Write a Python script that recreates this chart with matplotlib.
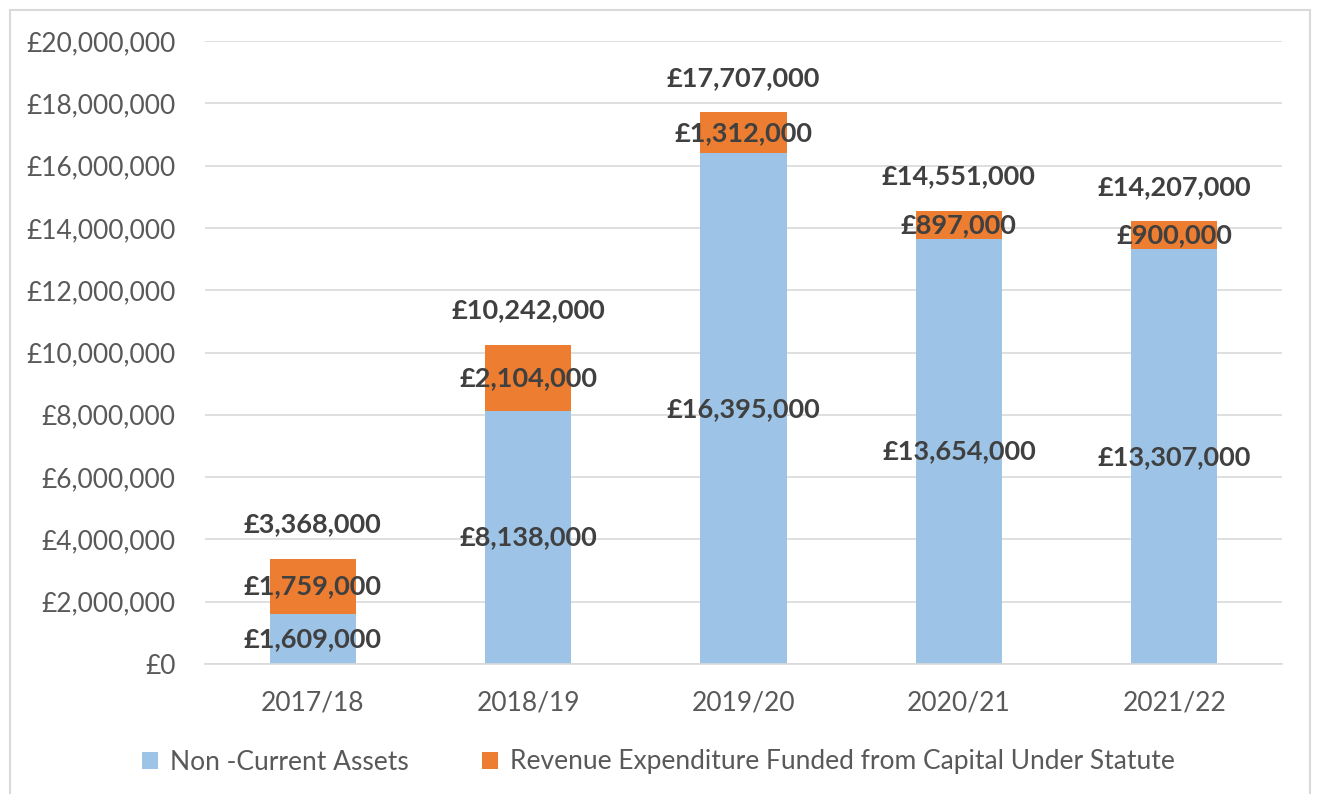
import matplotlib.pyplot as plt
from matplotlib.ticker import FuncFormatter
from matplotlib.patches import Rectangle

plt.rcParams['font.family'] = ['Lato', 'DejaVu Sans']

years = ['2017/18', '2018/19', '2019/20', '2020/21', '2021/22']
non_current = [1609000, 8138000, 16395000, 13654000, 13307000]
revenue_exp = [1759000, 2104000, 1312000, 897000, 900000]
totals = [3368000, 10242000, 17707000, 14551000, 14207000]

blue = '#9DC3E6'
orange = '#ED7D31'
label_col = '#404040'
tick_col = '#595959'

fig = plt.figure(figsize=(13.17, 7.94), dpi=100)
ax = fig.add_axes([205 / 1317, 1 - 664 / 794, (1282 - 205) / 1317, (664 - 41) / 794])

# outer chart border
fig.patches.append(Rectangle((10 / 1317, -0.01), 1300 / 1317, 1 - 10 / 794 + 0.01,
                             transform=fig.transFigure, fill=False,
                             edgecolor='#D9D9D9', linewidth=1.5))

x = range(len(years))
b1 = ax.bar(x, non_current, width=0.4, color=blue, label='Non -Current Assets', zorder=2)
b2 = ax.bar(x, revenue_exp, width=0.4, bottom=non_current, color=orange,
            label='Revenue Expenditure Funded from Capital Under Statute', zorder=2)

def money(v, pos=None):
    return '£{:,.0f}'.format(v)

lbl = dict(fontsize=19.5, fontweight='bold', color=label_col)
for i in x:
    ax.text(i, non_current[i] / 2, money(non_current[i]), ha='center', va='center',
            zorder=3, **lbl)
    ax.text(i, non_current[i] + revenue_exp[i] / 2, money(revenue_exp[i]), ha='center',
            va='center', zorder=3, **lbl)
    ax.annotate(money(totals[i]), (i, totals[i]), xytext=(0, 25), textcoords='offset points',
                ha='center', va='center', **lbl)

ax.set_xlim(-0.5, 4.5)
ax.set_ylim(0, 20000000)
ax.set_yticks(range(0, 20000001, 2000000))
ax.yaxis.set_major_formatter(FuncFormatter(money))
ax.set_xticks(list(x))
ax.set_xticklabels(years)
ax.grid(axis='y', color='#D9D9D9', linewidth=1.2, zorder=0)
ax.set_axisbelow(True)
for s in ['top', 'right', 'left']:
    ax.spines[s].set_visible(False)
ax.spines['bottom'].set_color('#D9D9D9')
ax.spines['bottom'].set_linewidth(1.2)
ax.tick_params(axis='both', length=0, labelsize=19, colors=tick_col)
ax.tick_params(axis='y', pad=21)
ax.tick_params(axis='x', pad=19)

fig.legend(handles=[b1, b2], loc='center', bbox_to_anchor=(0.5, 1 - 762 / 794), ncol=2,
           frameon=False, fontsize=19, handlelength=0.6, handleheight=0.6,
           handletextpad=0.45, columnspacing=2.8, labelcolor=tick_col)

fig.savefig('out.png', dpi=100)
